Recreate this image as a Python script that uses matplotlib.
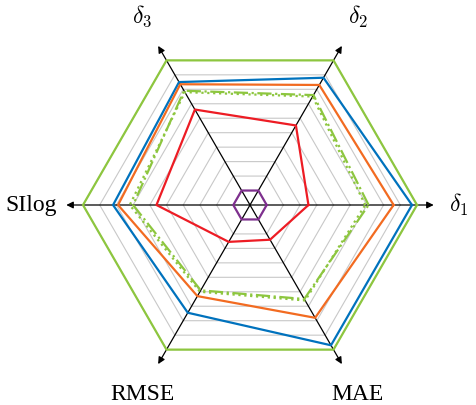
import numpy as np
import matplotlib.pyplot as plt

plt.rcParams['mathtext.fontset'] = 'cm'

# axes of the radar, counter-clockwise from the right
labels = [r'$\delta_1$', r'$\delta_2$', r'$\delta_3$', 'SIlog', 'RMSE', 'MAE']

# normalized scores (1 = best)
best      = [1.00, 1.00, 1.00, 1.00, 1.00, 1.00]
blue      = [0.97, 0.88, 0.85, 0.82, 0.745, 0.97]
orange    = [0.86, 0.83, 0.835, 0.79, 0.63, 0.78]
green_dd  = [0.71, 0.76, 0.79, 0.70, 0.59, 0.65]
green_dot = [0.69, 0.75, 0.78, 0.72, 0.60, 0.66]
red       = [0.35, 0.55, 0.66, 0.56, 0.255, 0.24]
purple    = [0.10, 0.10, 0.10, 0.10, 0.10, 0.10]

levels = np.arange(0.1, 1.01, 0.1)

n = len(labels)
ang = np.arange(n) * 2 * np.pi / n


def xy(vals):
    vals = np.asarray(vals, dtype=float)
    vals = np.append(vals, vals[0])
    a = np.append(ang, ang[0])
    return vals * np.cos(a), vals * np.sin(a)


fig = plt.figure(figsize=(4.76, 4.05), dpi=100)
ax = fig.add_axes([0, 0, 1, 1])
ax.set_xlim(-250 / 167, 226 / 167)
ax.set_ylim(-200 / 167, 205 / 167)
ax.set_aspect('equal')
ax.axis('off')

# hexagonal grid
for lv in levels:
    x, y = xy([lv] * n)
    ax.plot(x, y, color='#c8c8c8', lw=0.8, zorder=1)

# axes with arrows
for a in ang:
    ax.annotate('', xy=(1.10 * np.cos(a), 1.10 * np.sin(a)), xytext=(0, 0),
                arrowprops=dict(arrowstyle='-|>', color='black', lw=0.9,
                                mutation_scale=10, shrinkA=0, shrinkB=0),
                zorder=2)

series = [
    (best, '#8dc63f', '-'),
    (blue, '#0072bd', '-'),
    (orange, '#f26b21', '-'),
    (green_dd, '#8dc63f', '-.'),
    (green_dot, '#8dc63f', ':'),
    (red, '#ed1c24', '-'),
    (purple, '#7e2f8e', '-'),
]
for vals, c, ls in series:
    x, y = xy(vals)
    ax.plot(x, y, color=c, ls=ls, lw=1.6, zorder=3)

# axis labels
fam = 'Liberation Serif'
ax.text(1.25, 0, labels[0], ha='center', va='center', fontsize=17)
for i in (1, 2, 4, 5):
    r = 1.29
    ax.text(r * np.cos(ang[i]), r * np.sin(ang[i]) + (0.01 if i < 3 else -0.02),
            labels[i], ha='center', va='center', fontsize=17, family=fam)
ax.text(-1.155, 0, labels[3], ha='right', va='center', fontsize=17, family=fam)

fig.savefig('out.png', dpi=100)
